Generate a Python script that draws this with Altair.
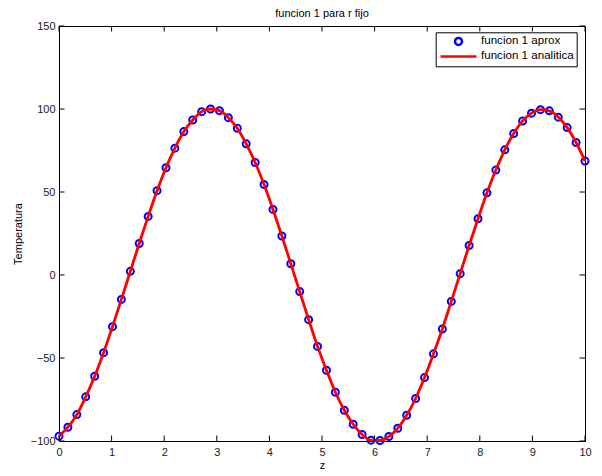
import altair as alt
import pandas as pd

# sample positions along z
z = [0.0, 0.169, 0.339, 0.508, 0.678, 0.847, 1.017, 1.186, 1.356, 1.525,
     1.695, 1.864, 2.034, 2.203, 2.373, 2.542, 2.712, 2.881, 3.051, 3.220,
     3.390, 3.559, 3.729, 3.898, 4.068, 4.237, 4.407, 4.576, 4.746, 4.915,
     5.085, 5.254, 5.424, 5.593, 5.763, 5.932, 6.102, 6.271, 6.441, 6.610,
     6.780, 6.949, 7.119, 7.288, 7.458, 7.627, 7.797, 7.966, 8.136, 8.305,
     8.475, 8.644, 8.814, 8.983, 9.153, 9.322, 9.492, 9.661, 9.831, 10.0]

# funcion 1 aprox (blue circles)
aprox = [-97.1, -91.7, -84.1, -73.4, -61.0, -46.8, -31.1, -14.7, 2.2, 19.0,
         35.3, 50.8, 64.6, 76.4, 86.4, 93.4, 98.4, 100.0, 99.0, 94.8,
         88.4, 79.0, 67.8, 54.5, 39.5, 23.5, 6.8, -10.0, -26.9, -43.0,
         -57.4, -70.6, -81.5, -89.9, -96.1, -99.5, -99.7, -97.3, -92.3, -84.5,
         -74.4, -61.8, -47.5, -32.5, -15.9, 0.8, 17.8, 33.9, 49.5, 63.2,
         75.4, 85.2, 92.8, 97.5, 99.6, 98.9, 95.1, 88.8, 79.8, 68.6]

# funcion 1 analitica (red line)
analitica = [-97.1, -91.7, -84.1, -73.4, -61.0, -46.8, -31.1, -14.7, 2.2, 19.0,
             35.3, 50.8, 64.6, 76.4, 86.4, 93.4, 98.4, 100.0, 99.0, 94.8,
             88.4, 79.0, 67.8, 54.5, 39.5, 23.5, 6.8, -10.0, -26.9, -43.0,
             -57.4, -70.6, -81.5, -89.9, -96.1, -99.5, -99.7, -97.3, -92.3, -84.5,
             -74.4, -61.8, -47.5, -32.5, -15.9, 0.8, 17.8, 33.9, 49.5, 63.2,
             75.4, 85.2, 92.8, 97.5, 99.6, 98.9, 95.1, 88.8, 79.8, 68.6]

x_ticks = [0, 1, 2, 3, 4, 5, 6, 7, 8, 9, 10]
y_ticks = [-100, -50, 0, 50, 100, 150]
series = ["funcion 1 aprox", "funcion 1 analitica"]

W, H = 526, 415
FONT = "Liberation Sans"
TL = 5.5

df_a = pd.DataFrame({"z": z, "T": aprox, "serie": series[0]})
df_b = pd.DataFrame({"z": z, "T": analitica, "serie": series[1]})
df_xt = pd.DataFrame({"z": x_ticks})
df_yt = pd.DataFrame({"T": y_ticks})

xs = alt.Scale(domain=[0, 10], nice=False, zero=False)
ys = alt.Scale(domain=[-100, 150], nice=False, zero=False)
x_axis = alt.Axis(values=x_ticks, title="z", labelFlush=False, labelOverlap=False,
                  labelPadding=5, titlePadding=2)
y_axis = alt.Axis(values=y_ticks, title="Temperatura", labelFlush=False, labelOverlap=False,
                  labelPadding=4, titlePadding=7)

circle_path = "M-0.7,0A0.7,0.7,0,1,0,0.7,0A0.7,0.7,0,1,0,-0.7,0Z"
line_path = "M-3.6,0L3.6,0"

leg = alt.Legend(
    title=None, orient="none", legendX=376.7, legendY=6.3,
    padding=2, symbolSize=100, symbolStrokeWidth=2.5, symbolOffset=14.3,
    labelOffset=16, rowPadding=0, clipHeight=14.3, labelFont=FONT, labelFontSize=11.6,
    labelColor="black", labelLimit=300, fillColor="white",
    strokeColor="black", cornerRadius=0,
)

points = alt.Chart(df_a).mark_point(filled=False, strokeWidth=2, size=100, opacity=1).encode(
    x=alt.X("z:Q", scale=xs, axis=x_axis),
    y=alt.Y("T:Q", scale=ys, axis=y_axis),
    color=alt.Color("serie:N", scale=alt.Scale(domain=series, range=["#0000ff", "#ff0000"]), legend=leg),
    shape=alt.Shape("serie:N", scale=alt.Scale(domain=series, range=[circle_path, line_path]), legend=leg),
)

line = alt.Chart(df_b).mark_line(color="#ff0000", strokeWidth=2.8, interpolate="monotone").encode(
    x=alt.X("z:Q", scale=xs, axis=x_axis),
    y=alt.Y("T:Q", scale=ys, axis=y_axis),
)

tick_style = dict(color="black", strokeWidth=1)
bottom_t = alt.Chart(df_xt).mark_rule(**tick_style).encode(
    x=alt.X("z:Q", scale=xs, axis=x_axis), y=alt.value(H), y2=alt.value(H - TL))
top_t = alt.Chart(df_xt).mark_rule(**tick_style).encode(
    x=alt.X("z:Q", scale=xs, axis=x_axis), y=alt.value(0), y2=alt.value(TL))
left_t = alt.Chart(df_yt).mark_rule(**tick_style).encode(
    y=alt.Y("T:Q", scale=ys, axis=y_axis), x=alt.value(0), x2=alt.value(TL))
right_t = alt.Chart(df_yt).mark_rule(**tick_style).encode(
    y=alt.Y("T:Q", scale=ys, axis=y_axis), x=alt.value(W - TL), x2=alt.value(W))

chart = alt.layer(points, line, bottom_t, top_t, left_t, right_t).properties(
    width=W, height=H,
    title=alt.TitleParams("funcion 1 para r fijo", font=FONT, fontSize=11,
                          fontWeight="normal", color="black", offset=1),
    autosize=alt.AutoSizeParams(type="none"),
    padding={"left": 59, "top": 26, "right": 17, "bottom": 35},
    background="white",
).configure_view(
    stroke="black", strokeWidth=1
).configure_axis(
    domainColor="black", domainWidth=1, ticks=False, grid=False,
    labelFont=FONT, labelFontSize=11, labelColor="#1a1a1a",
    titleFont=FONT, titleFontSize=11, titleFontWeight="normal", titleColor="black",
)

chart.save("out.html", embed_options={"renderer": "svg", "actions": False})
